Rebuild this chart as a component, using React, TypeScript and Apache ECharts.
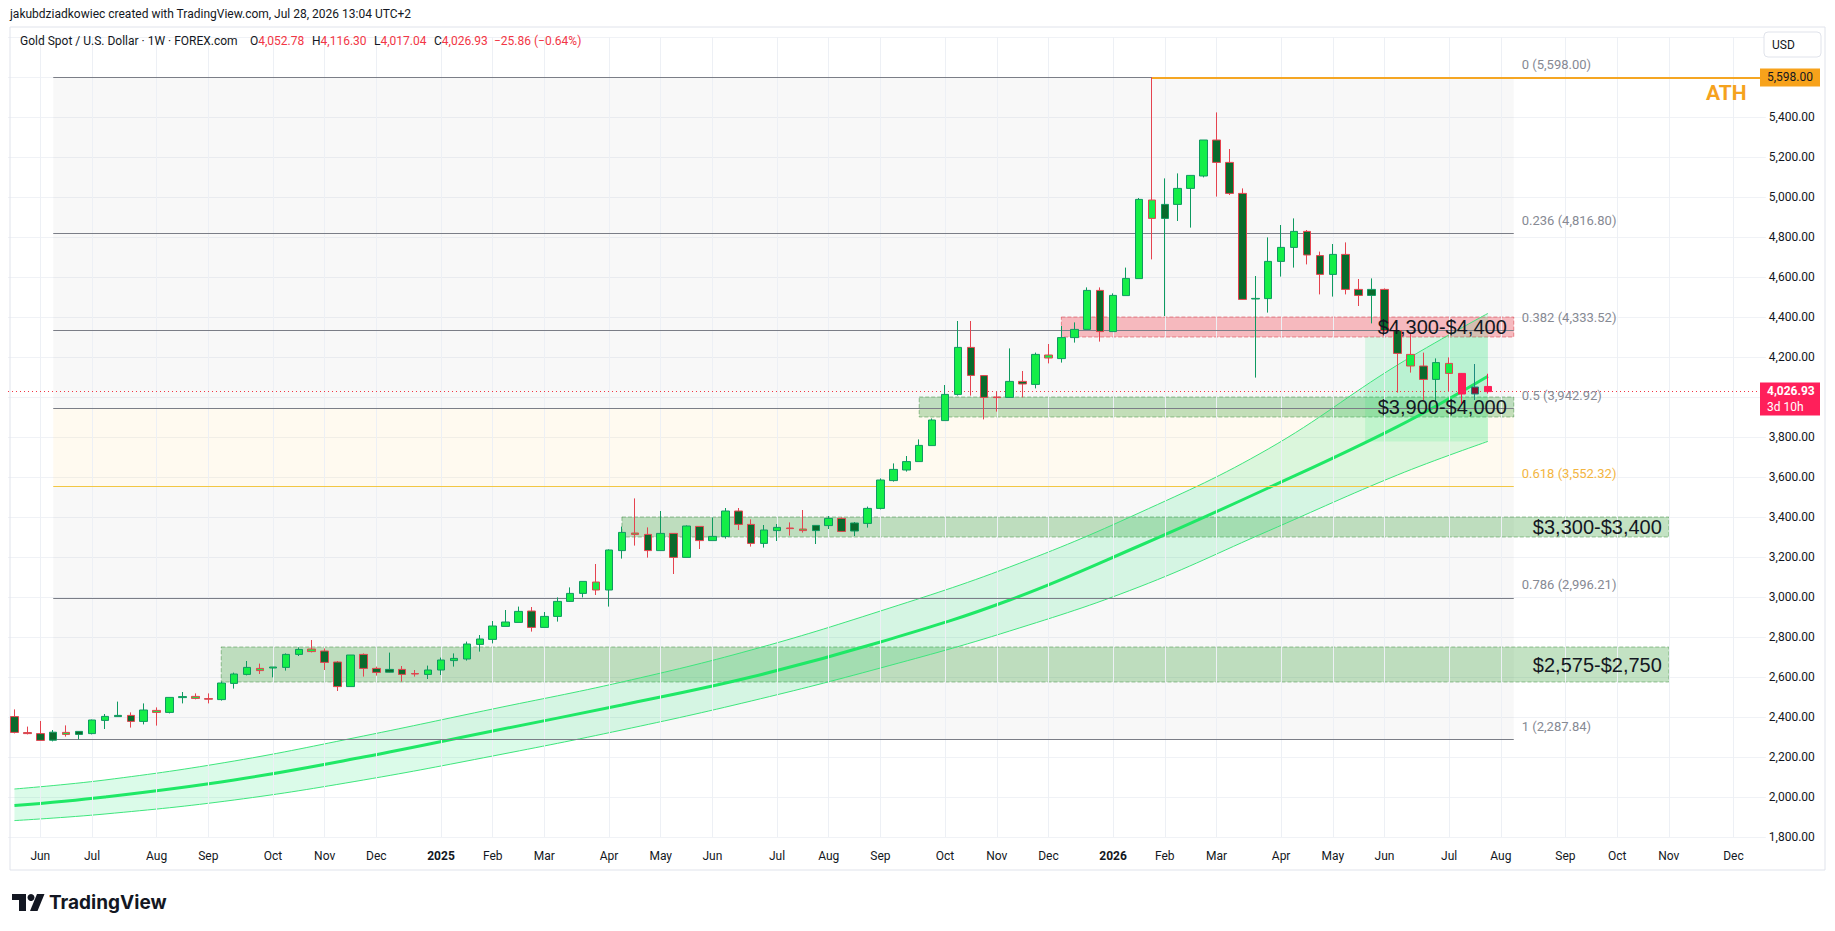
import React, { useEffect, useRef } from "react";
import * as echarts from "echarts";

// ---------- data ----------
const FIRST_WEEK = -2; // week index of first candle (week 0 = first June 2024 week)
const LAST_AXIS_WEEK = 133;

const opens = [
  2402, 2322, 2317, 2324, 2313, 2328, 2317, 2383, 2408, 2408,
  2378, 2423, 2423, 2497, 2493, 2492, 2487, 2568, 2613, 2632,
  2645, 2648, 2713, 2727, 2730, 2675, 2552, 2713, 2643, 2638,
  2638, 2617, 2613, 2635, 2682, 2690, 2763, 2788, 2853, 2873,
  2930, 2848, 2903, 2978, 3018, 3035, 3035, 3232, 3313, 3313,
  3232, 3318, 3198, 3353, 3282, 3302, 3430, 3363, 3268, 3332,
  3345, 3332, 3358, 3357, 3393, 3370, 3368, 3443, 3582, 3635,
  3677, 3757, 3882, 4013, 4248, 4107, 4000, 3998, 4078, 4063,
  4195, 4192, 4297, 4338, 4533, 4327, 4507, 4592, 4893, 4963,
  4963, 5043, 5105, 5285, 5173, 5018, 4490, 4492, 4678, 4748,
  4828, 4707, 4613, 4713, 4538, 4538, 4538, 4332, 4155, 4155,
  4088, 4118, 4118, 4015, 4052.78,
];
const highs = [
  2438, 2352, 2380, 2335, 2358, 2330, 2387, 2415, 2477, 2423,
  2468, 2448, 2498, 2525, 2518, 2518, 2577, 2622, 2680, 2667,
  2650, 2718, 2748, 2785, 2743, 2680, 2710, 2718, 2652, 2722,
  2655, 2635, 2657, 2697, 2718, 2777, 2810, 2880, 2935, 2952,
  2950, 2925, 2998, 3048, 3078, 3165, 3238, 3352, 3493, 3348,
  3430, 3318, 3358, 3353, 3398, 3445, 3445, 3388, 3360, 3365,
  3373, 3435, 3358, 3405, 3398, 3375, 3452, 3593, 3668, 3705,
  3788, 3893, 4060, 4380, 4380, 4110, 4030, 4243, 4130, 4222,
  4265, 4355, 4373, 4548, 4548, 4518, 4647, 4995, 5598, 5093,
  5118, 5108, 5285, 5423, 5240, 5043, 4605, 4798, 4860, 4893,
  4835, 4727, 4765, 4773, 4590, 4593, 4543, 4332, 4318, 4222,
  4193, 4198, 4120, 4165, 4116.3,
];
const lows = [
  2318, 2313, 2282, 2278, 2302, 2288, 2313, 2340, 2400, 2347,
  2363, 2357, 2418, 2468, 2488, 2468, 2482, 2542, 2608, 2615,
  2598, 2632, 2705, 2723, 2635, 2530, 2552, 2602, 2607, 2623,
  2577, 2602, 2590, 2610, 2652, 2682, 2727, 2768, 2853, 2873,
  2827, 2848, 2877, 2975, 2998, 3010, 2952, 3192, 3257, 3197,
  3232, 3115, 3198, 3240, 3282, 3292, 3335, 3252, 3247, 3280,
  3307, 3322, 3265, 3340, 3327, 3305, 3347, 3438, 3577, 3627,
  3677, 3757, 3882, 4007, 4007, 3888, 3927, 3998, 3998, 4043,
  4168, 4172, 4272, 4338, 4277, 4327, 4507, 4592, 4688, 4405,
  4880, 4847, 5098, 5002, 5010, 4485, 4097, 4422, 4602, 4647,
  4663, 4513, 4502, 4513, 4455, 4368, 4327, 4022, 4122, 3982,
  3977, 4027, 3960, 3985, 4017.04,
];
const closes = [
  2323, 2317, 2283, 2284, 2323, 2313, 2385, 2403, 2402, 2378,
  2435, 2433, 2498, 2502, 2503, 2489, 2570, 2615, 2648, 2643,
  2650, 2713, 2738, 2740, 2673, 2552, 2710, 2643, 2623, 2624,
  2613, 2615, 2635, 2685, 2693, 2765, 2790, 2855, 2875, 2928,
  2848, 2903, 2978, 3018, 3078, 3075, 3235, 3323, 3320, 3232,
  3318, 3198, 3355, 3282, 3303, 3430, 3363, 3268, 3335, 3348,
  3342, 3340, 3332, 3393, 3328, 3330, 3443, 3585, 3638, 3677,
  3758, 3885, 4013, 4248, 4108, 3998, 3997, 4078, 4065, 4213,
  4210, 4297, 4338, 4533, 4327, 4508, 4593, 4988, 4985, 4893,
  5043, 5108, 5285, 5173, 5018, 4488, 4493, 4678, 4748, 4828,
  4710, 4613, 4713, 4538, 4508, 4508, 4332, 4218, 4213, 4088,
  4172, 4168, 4015, 4050, 4026.93,
];
// wick / border tone per candle: u = teal, d = red, x = crimson bar, m = maroon bar
const rims =
  "ddduduuuud" + "uduudduuud" + "uuuddduddu" +
  "dduuuuuuuu" + "duuuuduudd" + "ududuudduu" + "dduuduuuuu" +
  "uuuudddudu" + "duuuduuudu" + "uuuddduuuu" + "dduddudddd" + "udxmx";

const monthWeeks = [0, 4, 9, 13, 18, 22, 26, 31, 35, 39, 44, 48, 52, 57, 61, 65, 70, 74, 78, 83, 87, 91, 96, 100, 104, 109, 113, 118, 122, 126, 131];
const monthNames = ["Jun", "Jul", "Aug", "Sep", "Oct", "Nov", "Dec", "2025", "Feb", "Mar", "Apr", "May", "Jun", "Jul", "Aug", "Sep", "Oct", "Nov", "Dec", "2026", "Feb", "Mar", "Apr", "May", "Jun", "Jul", "Aug", "Sep", "Oct", "Nov", "Dec"];

const bandWeeks = [-2, 5, 15, 25, 35, 45, 55, 65, 75, 85, 95, 105, 112];
const bandMid = [1957, 2000, 2085, 2200, 2330, 2460, 2600, 2775, 2985, 3255, 3545, 3852, 4104];
const bandTop = [2040, 2085, 2180, 2305, 2440, 2575, 2735, 2930, 3150, 3420, 3740, 4160, 4418];
const bandLow = [1882, 1915, 1985, 2085, 2205, 2335, 2480, 2645, 2830, 3050, 3330, 3610, 3778];

const fibRatios = ["0", "0.236", "0.382", "0.5", "0.618", "0.786", "1"];
const fibPrices = [5598.0, 4816.8, 4333.52, 3942.92, 3552.32, 2996.21, 2287.84];
const fibStartWeek = 1;
const fibEndWeek = 114;

const zoneLabels = ["$2,575-$2,750", "$3,300-$3,400", "$3,900-$4,000", "$4,300-$4,400"];
const zoneLow = [2575, 3300, 3900, 4300];
const zoneHigh = [2750, 3400, 4000, 4400];
const zoneStart = [14, 45, 68, 79];
const zoneEnd = [126, 126, 114, 114];
const zoneKind = ["support", "support", "support", "resistance"];

const stripWeeks = [102.5, 112];
const stripPrices = [3778, 4300];

const athWeek = 86;
const athPrice = 5598.0;
const lastPrice = 4026.93;
const countdown = "3d 10h";

const creditText = "jakubdziadkowiec created with TradingView.com, Jul 28, 2026 13:04 UTC+2";
const symbolText = "Gold Spot / U.S. Dollar · 1W · FOREX.com";
const ohlcKeys = ["O", "H", "L", "C"];
const ohlcVals = ["4,052.78", "4,116.30", "4,017.04", "4,026.93"];
const changeText = "−25.86 (−0.64%)";

// ---------- styling ----------
const UP_FILL = "#14ee48";
const DN_FILL = "#0a6a2c";
const UP_RIM = "#0e9a60";
const DN_RIM = "#e5434f";
const CRIMSON = "#ff1d57";
const MAROON = "#8c0f31";
const TEAL_RIM = "#1d8a80";
const INK = "#131722";
const FONT = "Roboto, 'Liberation Sans', sans-serif";

const fmt = (v: number) =>
  v.toLocaleString("en-US", { minimumFractionDigits: 2, maximumFractionDigits: 2 });

function buildOption() {
  const cats: string[] = [];
  for (let w = FIRST_WEEK; w <= LAST_AXIS_WEEK; w++) cats.push(String(w));

  const candleData = opens.map((o, k) => {
    const c = closes[k];
    const r = rims[k];
    let fill = c >= o ? UP_FILL : DN_FILL;
    let rim = r === "u" ? UP_RIM : DN_RIM;
    if (r === "x") {
      fill = CRIMSON;
      rim = CRIMSON;
    }
    if (r === "m") {
      fill = MAROON;
      rim = TEAL_RIM;
    }
    return {
      value: [o, c, lows[k], highs[k]],
      itemStyle: { color: fill, color0: fill, borderColor: rim, borderColor0: rim, borderColorDoji: rim, borderWidth: 1 },
    };
  });

  const fibAreas = [];
  for (let k = 0; k < fibPrices.length - 1; k++) {
    fibAreas.push([
      {
        coord: [fibStartWeek, fibPrices[k]],
        itemStyle: { color: k === 3 ? "rgba(255,200,90,0.09)" : "rgba(0,0,0,0.026)" },
      },
      { coord: [fibEndWeek, fibPrices[k + 1]] },
    ]);
  }

  const zoneAreas: any[] = zoneLabels.map((_, k) => [
    {
      coord: [zoneStart[k], zoneHigh[k]],
      itemStyle:
        zoneKind[k] === "resistance"
          ? { color: "rgba(242,54,69,0.32)", borderColor: "rgba(220,60,70,0.55)", borderWidth: 1, borderType: "dashed" }
          : { color: "rgba(56,160,56,0.30)", borderColor: "rgba(60,140,60,0.5)", borderWidth: 1, borderType: "dashed" },
    },
    { coord: [zoneEnd[k], zoneLow[k]] },
  ]);
  zoneAreas.push([
    { coord: [stripWeeks[0], stripPrices[1]], itemStyle: { color: "rgba(0,230,100,0.12)" } },
    { coord: [stripWeeks[1], stripPrices[0]] },
  ]);

  const fibLines = fibPrices.map((p, k) => [
    { coord: [fibStartWeek, p], lineStyle: { color: k === 4 ? "#f2c744" : "#7b7e87", width: 1, type: "solid" } },
    { coord: [fibEndWeek, p] },
  ]);

  // band series live on the category axis (index = week - FIRST_WEEK) so they can stack
  const ci = (w: number) => w - FIRST_WEEK;
  const lowPts = bandWeeks.map((w, k) => [ci(w), bandLow[k]]);
  const spanPts = bandWeeks.map((w, k) => [ci(w), bandTop[k] - bandLow[k]]);
  const midPts = bandWeeks.map((w, k) => [ci(w), bandMid[k]]);

  const isMonth = (w: number) => monthWeeks.indexOf(w) >= 0;
  // price labels hidden where the axis tags sit on top of them
  const hiddenByTag = (v: number) => v > 5700 || Math.abs(v - athPrice) < 60 || Math.abs(v - lastPrice) < 60;

  return {
    animation: false,
    backgroundColor: "#ffffff",
    textStyle: { fontFamily: FONT },
    grid: { left: 8, top: 37, width: 136 * 12.925, height: 800 },
    xAxis: [
      {
        type: "category",
        data: cats,
        boundaryGap: true,
        axisLine: { show: false },
        axisTick: { show: false },
        splitLine: { show: false },
        axisLabel: {
          interval: (_i: number, v: string) => isMonth(Number(v)),
          formatter: (v: string) => {
            const name = monthNames[monthWeeks.indexOf(Number(v))] || "";
            return /^\d{4}$/.test(name) ? `{yr|${name}}` : name;
          },
          margin: 13,
          color: INK,
          fontSize: 12,
          fontFamily: FONT,
          rich: { yr: { fontWeight: "bold", fontSize: 12, color: INK, fontFamily: FONT } },
        },
      },
      { type: "value", show: false, min: FIRST_WEEK - 0.5, max: LAST_AXIS_WEEK + 0.5 },
    ],
    yAxis: {
      type: "value",
      position: "right",
      min: 1800,
      max: 5800,
      interval: 200,
      axisLine: { show: false },
      axisTick: { show: false },
      splitLine: { lineStyle: { color: "#f0f2f6", width: 1 } },
      axisLabel: {
        margin: 3,
        color: INK,
        fontSize: 12,
        fontFamily: FONT,
        formatter: (v: number) => (hiddenByTag(v) ? "" : fmt(v)),
      },
    },
    series: [
      {
        name: "fibBg",
        type: "line",
        xAxisIndex: 1,
        yAxisIndex: 0,
        data: [],
        silent: true,
        z: 1,
        markArea: { silent: true, data: fibAreas },
        markLine: {
          silent: true,
          symbol: ["none", "none"],
          label: { show: false },
          lineStyle: { color: "#edf0f5", width: 1, type: "solid" },
          data: monthWeeks.map((w) => ({ xAxis: w })),
        },
      },
      {
        name: "zones",
        type: "line",
        xAxisIndex: 1,
        yAxisIndex: 0,
        data: [],
        silent: true,
        z: 2,
        markArea: { silent: true, data: zoneAreas },
      },
      {
        name: "bandLow",
        type: "line",
        xAxisIndex: 0,
        yAxisIndex: 0,
        stack: "band",
        data: lowPts,
        smooth: 0.4,
        symbol: "none",
        silent: true,
        lineStyle: { color: "#3ee67d", width: 1 },
        z: 3,
      },
      {
        name: "bandSpan",
        type: "line",
        xAxisIndex: 0,
        yAxisIndex: 0,
        stack: "band",
        data: spanPts,
        smooth: 0.4,
        symbol: "none",
        silent: true,
        lineStyle: { color: "#3ee67d", width: 1 },
        areaStyle: { color: "rgba(0,230,100,0.2)" },
        z: 3,
      },
      {
        name: "bandMid",
        type: "line",
        xAxisIndex: 0,
        yAxisIndex: 0,
        data: midPts,
        smooth: 0.4,
        symbol: "none",
        silent: true,
        lineStyle: { color: "#1fe866", width: 3 },
        z: 4,
      },
      {
        name: "fibLines",
        type: "line",
        xAxisIndex: 1,
        yAxisIndex: 0,
        data: [],
        silent: true,
        z: 5,
        markLine: { silent: true, symbol: ["none", "none"], label: { show: false }, data: fibLines },
      },
      {
        name: "XAUUSD",
        type: "candlestick",
        xAxisIndex: 0,
        yAxisIndex: 0,
        data: candleData,
        barWidth: 8,
        z: 6,
      },
      {
        name: "priceLines",
        type: "line",
        xAxisIndex: 1,
        yAxisIndex: 0,
        data: [],
        silent: true,
        z: 7,
        markLine: {
          silent: true,
          symbol: ["none", "none"],
          label: { show: false },
          data: [
            [
              { coord: [FIRST_WEEK - 0.5, lastPrice], lineStyle: { color: "#f23645", width: 1, type: [1, 3] } },
              { coord: [LAST_AXIS_WEEK + 0.5, lastPrice] },
            ],
            [
              { coord: [athWeek, athPrice], lineStyle: { color: "#f5a623", width: 2, type: "solid" } },
              { coord: [LAST_AXIS_WEEK + 0.5, athPrice] },
            ],
          ],
        },
      },
    ],
  };
}

export default function App() {
  const ref = useRef<HTMLDivElement>(null);

  useEffect(() => {
    document.body.style.margin = "0";
    const chart = echarts.init(ref.current as HTMLDivElement, null, { renderer: "svg" });
    chart.setOption(buildOption() as any);

    const px = (w: number) => chart.convertToPixel({ xAxisIndex: 1 } as any, w) as number;
    const py = (p: number) => chart.convertToPixel({ yAxisIndex: 0 } as any, p) as number;

    const g: any[] = [];
    // pane frame
    g.push({
      type: "rect",
      shape: { x: 10, y: 27, width: 1815, height: 843 },
      style: { fill: "none", stroke: "#e0e3eb", lineWidth: 1 },
      z: 0,
      silent: true,
    });
    // header texts
    g.push({ type: "text", x: 10, y: 14, style: { text: creditText, fill: INK, font: `12px ${FONT}`, verticalAlign: "middle" }, z: 20 });
    g.push({ type: "text", x: 20, y: 41, style: { text: symbolText, fill: INK, font: `12px ${FONT}`, verticalAlign: "middle" }, z: 20 });
    const ohlcX = [250, 312, 374, 434];
    ohlcKeys.forEach((k, j) => {
      g.push({
        type: "text",
        x: ohlcX[j],
        y: 41,
        style: {
          text: `{k|${k}}{v|${ohlcVals[j]}}`,
          verticalAlign: "middle",
          rich: {
            k: { fill: INK, font: `12px ${FONT}` },
            v: { fill: "#f23645", font: `12px ${FONT}` },
          },
        },
        z: 20,
      });
    });
    g.push({ type: "text", x: 494, y: 41, style: { text: changeText, fill: "#f23645", font: `12px ${FONT}`, verticalAlign: "middle" }, z: 20 });

    // USD box
    g.push({
      type: "rect",
      shape: { x: 1764, y: 32, width: 57, height: 25, r: 4 },
      style: { fill: "#ffffff", stroke: "#e0e3eb", lineWidth: 1 },
      z: 20,
    });
    g.push({ type: "text", x: 1772, y: 44.5, style: { text: "USD", fill: INK, font: `12px ${FONT}`, verticalAlign: "middle" }, z: 21 });

    // fib labels
    fibPrices.forEach((p, k) => {
      g.push({
        type: "text",
        x: px(fibEndWeek) + 8,
        y: py(p) - 13,
        style: {
          text: `${fibRatios[k]} (${fmt(p)})`,
          fill: k === 4 ? "#f3b53f" : "#868993",
          font: `13px ${FONT}`,
          verticalAlign: "middle",
        },
        z: 20,
      });
    });

    // zone labels
    zoneLabels.forEach((t, k) => {
      g.push({
        type: "text",
        x: px(zoneEnd[k]) - 7,
        y: py((zoneLow[k] + zoneHigh[k]) / 2),
        style: { text: t, fill: INK, font: `20px 'Liberation Sans', Arial, sans-serif`, align: "right", verticalAlign: "middle" },
        z: 20,
      });
    });

    // ATH note and tag
    const yAth = py(athPrice);
    g.push({
      type: "text",
      x: 1706,
      y: yAth + 16,
      style: { text: "ATH", fill: "#f5a21e", font: `bold 21px ${FONT}`, verticalAlign: "middle" },
      z: 20,
    });
    g.push({ type: "rect", shape: { x: 1760, y: yAth - 9, width: 60, height: 18 }, style: { fill: "#f7a21b" }, z: 20 });
    g.push({ type: "text", x: 1767, y: yAth, style: { text: fmt(athPrice), fill: INK, font: `12px ${FONT}`, verticalAlign: "middle" }, z: 21 });

    // current price tag
    const yLast = py(lastPrice);
    g.push({ type: "rect", shape: { x: 1760, y: yLast - 9, width: 60, height: 33 }, style: { fill: "#ff1f5a" }, z: 20 });
    g.push({ type: "text", x: 1767, y: yLast - 1, style: { text: fmt(lastPrice), fill: "#ffffff", font: `bold 12px ${FONT}`, verticalAlign: "middle" }, z: 21 });
    g.push({ type: "text", x: 1767, y: yLast + 15, style: { text: countdown, fill: "#ffffff", font: `12px ${FONT}`, verticalAlign: "middle" }, z: 21 });

    // TradingView logo
    g.push({ type: "rect", shape: { x: 12, y: 894, width: 14, height: 6 }, style: { fill: INK }, z: 20 });
    g.push({ type: "rect", shape: { x: 19, y: 894, width: 7, height: 17 }, style: { fill: INK }, z: 20 });
    g.push({ type: "circle", shape: { cx: 31, cy: 897.5, r: 3.5 }, style: { fill: INK }, z: 20 });
    g.push({ type: "polygon", shape: { points: [[37, 894], [44.5, 894], [37.5, 911], [30, 911]] }, style: { fill: INK }, z: 20 });
    g.push({ type: "text", x: 49, y: 902, style: { text: "TradingView", fill: INK, font: `bold 19px Inter, ${FONT}`, verticalAlign: "middle" }, z: 20 });

    chart.setOption({ graphic: g } as any);

    return () => chart.dispose();
  }, []);

  return <div ref={ref} style={{ width: 1835, height: 931 }} />;
}
